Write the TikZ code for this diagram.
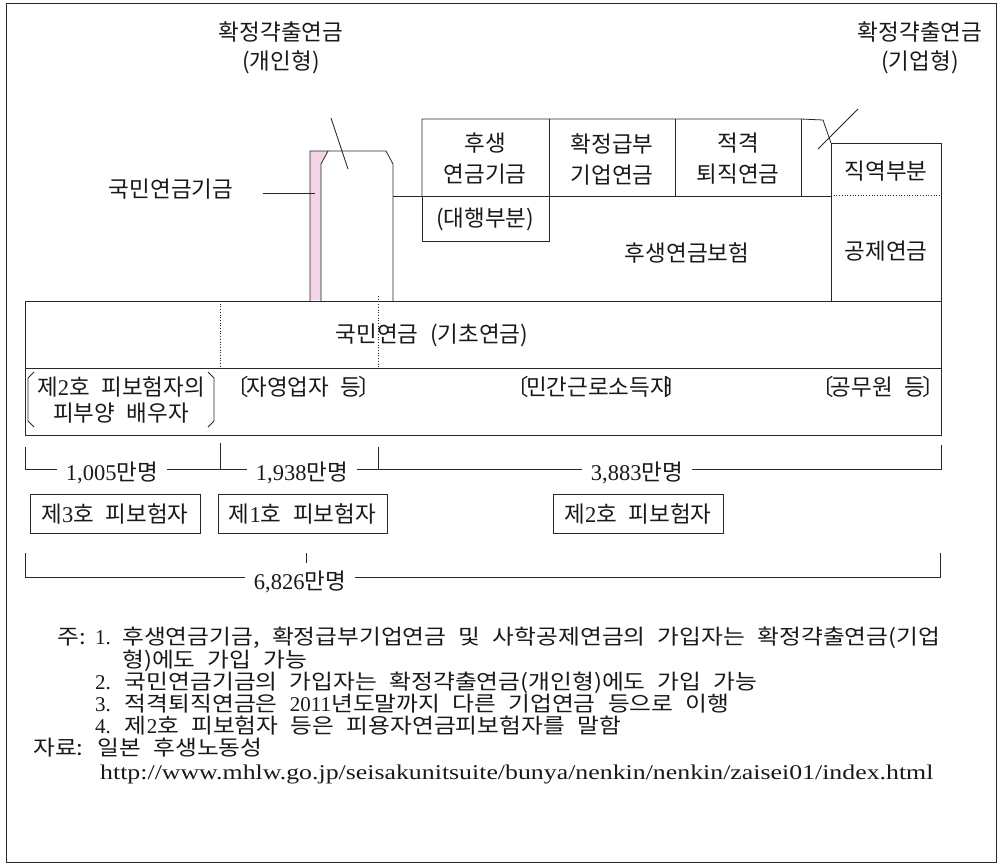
\documentclass[tikz,border=0pt]{standalone}
\usepackage{fontspec}
\setmainfont{Noto Sans CJK KR}[WordSpace=2.3]
\newfontfamily\notef{Noto Sans CJK KR}[WordSpace=2.3, FakeStretch=1.13]
\newfontfamily\latf{Liberation Serif}
\newfontfamily\urlf{Liberation Serif}[FakeStretch=1.23]
\newcommand\LT[1]{{\latf #1}}
\definecolor{pinkfill}{RGB}{242,212,230}
\definecolor{lncol}{RGB}{40,40,40}
\begin{document}
\begin{tikzpicture}[x=1pt,y=-1pt,
  every node/.style={font=\fontsize{22.5}{26}\selectfont, inner sep=0pt, text=black!90},
  ln/.style={line width=0.8pt, draw=lncol},
  dotl/.style={line width=0.7pt, draw=lncol, dotted},
  tl/.style={align=center, font=\fontsize{22.5}{#1}\selectfont},
  cnt/.style={fill=white, inner xsep=9pt, inner ysep=2pt},
  bx/.style={draw=lncol, line width=0.8pt, minimum width=#1, minimum height=39pt},
  note/.style={anchor=base west, font=\notef\fontsize{21}{24}\selectfont}]
\useasboundingbox (0,0) rectangle (1001,865);
\draw[ln] (6,3) rectangle (996,862);

% ---- upper structure ----
\fill[pinkfill] (310,151) -- (328,151) -- (321,164) -- (321,300) -- (310,300) -- cycle;
\draw[ln] (310,301) -- (310,151) -- (386,151) -- (393,164) -- (393,301);
\draw[ln] (321,301) -- (321,164) -- (328,151);
\draw[ln] (393,196) -- (831,196);
\draw[ln] (422,196) -- (422,119) -- (801,119) -- (823,120) -- (831,143);
\draw[ln] (422,196) rectangle (549,241);
\draw[ln] (549,119) -- (549,196);
\draw[ln] (675,119) -- (675,196);
\draw[ln] (801,119) -- (801,196);
\draw[ln] (831,143) rectangle (941,301);
\draw[dotl] (831,195) -- (941,195);

\node[tl=31] (kfund) at (485,159) {후생\\연금기금};
\node (dbpart) at (485,219) {(대행부분)};
\node[tl=31] (dbcorp) at (612,159) {확정급부\\기업연금};
\node[tl=31] (qret) at (738,159) {적격\\퇴직연금};
\node (epi) at (687,253) {후생연금보험};
\node (jyuk) at (886,171) {직역부분};
\node (mutual) at (886,251) {공제연금};

\node[tl=29] (dcind) at (281,48) {확정갹출연금\\(개인형)};
\node[tl=29] (dccorp) at (920,48) {확정갹출연금\\(기업형)};
\node (npf) at (171,189) {국민연금기금};
\coordinate (dcindA) at (331,118);
\coordinate (dcindB) at (348,169);
\draw[ln] (dcindA) -- (dcindB);
\coordinate (dccorpA) at (858,109);
\coordinate (dccorpB) at (818,149);
\draw[ln] (dccorpA) -- (dccorpB);
\coordinate (npfA) at (263,193);
\coordinate (npfB) at (315,193);
\draw[ln] (npfA) -- (npfB);

% ---- national pension band ----
\draw[ln] (25,301) rectangle (941,435);
\draw[ln] (25,368) -- (941,368);
\draw[dotl] (220,301) -- (220,368);
\draw[dotl] (378,296) -- (378,368);
\node (np) at (432,335) {국민연금 (기초연금)};

\node[tl=26] (spouse) at (121,400) {제\LT{2}호 피보험자의\\피부양 배우자};
\draw[ln] (34,372) -- (28,378) -- (28,421) -- (34,427);
\draw[ln] (208,372) -- (214,378) -- (214,421) -- (208,427);
\node (self) at (304,387) {〔\kern-3pt 자영업자 등\kern-3pt 〕};
\node (priv) at (597,387) {〔\kern-3pt 민간근로소득자\kern-6pt 〕};
\node (civ) at (878,387) {〔\kern-3pt 공무원 등\kern-3pt 〕};

% ---- counts ----
\draw[ln] (25,447) -- (25,469) -- (941,469) -- (941,445);
\draw[ln] (220,443) -- (220,469);
\draw[ln] (378,447) -- (378,469);
\node[cnt] (c3) at (112,473) {\LT{1,005}만명};
\node[cnt] (c1) at (302,473) {\LT{1,938}만명};
\node[cnt] (c2) at (637,473) {\LT{3,883}만명};

\node[bx=170pt] (g3) at (115,514) {제\LT{3}호 피보험자};
\node[bx=169pt] (g1) at (302.5,514) {제\LT{1}호 피보험자};
\node[bx=170pt] (g2) at (638,514) {제\LT{2}호 피보험자};
\draw[ln] (306,553) -- (306,563);

\draw[ln] (25,553) -- (25,577) -- (940,577) -- (940,553);
\node[cnt] (ctot) at (300,582) {\LT{6,826}만명};

% ---- notes ----
\node[note] (nz) at (57,644) {주:};
\node[note] (n1a) at (95,644) {\LT{1.}};
\node[note] (n1b) at (122,644) {\hbox to 818pt{후생연금기금, 확정급부기업연금 및 사학공제연금의 가입자는 확정갹출연금(기업}};
\node[note] (n1c) at (122,667) {형)에도 가입 가능};
\node[note] (n2) at (95,689) {\LT{2.} 국민연금기금의 가입자는 확정갹출연금(개인형)에도 가입 가능};
\node[note] (n3) at (95,711) {\LT{3.} 적격퇴직연금은 \LT{2011}년도말까지 다른 기업연금 등으로 이행};
\node[note] (n4) at (95,733) {\LT{4.} 제\LT{2}호 피보험자 등은 피용자연금피보험자를 말함};
\node[note] (src) at (33,755) {자료: 일본 후생노동성};
\node[anchor=base west, font=\urlf\fontsize{21}{24}\selectfont] (url) at (100,779) {http://www.mhlw.go.jp/seisakunitsuite/bunya/nenkin/nenkin/zaisei01/index.html};
\end{tikzpicture}
\end{document}
